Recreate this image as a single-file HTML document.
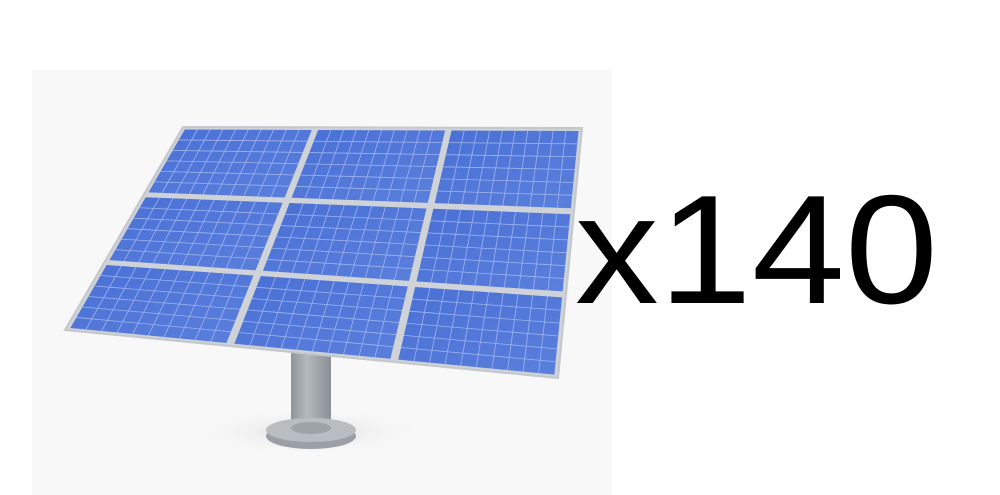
<!DOCTYPE html>
<html><head><meta charset="utf-8"><style>
html,body{margin:0;padding:0;background:#fff;width:1000px;height:495px;overflow:hidden}
svg{display:block}
</style></head><body>
<svg id="s" width="1000" height="495" viewBox="0 0 1000 495" xmlns="http://www.w3.org/2000/svg">
<defs>
<linearGradient id="cell" x1="0" y1="0" x2="1" y2="1">
<stop offset="0" stop-color="#4a70d6"/><stop offset="1" stop-color="#5a7fdc"/></linearGradient>
<radialGradient id="shadow" cx="0.5" cy="0.5" r="0.5"><stop offset="0" stop-color="#dcdcdc"/><stop offset="1" stop-color="#f8f8f8" stop-opacity="0"/></radialGradient>
<linearGradient id="pole" x1="0" x2="1"><stop offset="0" stop-color="#8e9499"/><stop offset="0.4" stop-color="#b4b9bd"/><stop offset="1" stop-color="#8a9095"/></linearGradient>
</defs>
<rect x="32" y="70" width="580" height="425" fill="#f8f8f8"/>
<ellipse cx="310" cy="432" rx="120" ry="25" fill="url(#shadow)"/>
<rect x="291" y="350" width="40" height="80" fill="url(#pole)"/>
<ellipse cx="311" cy="436" rx="45" ry="13" fill="#9aa0a5"/>
<ellipse cx="311" cy="430" rx="45" ry="12" fill="#b8bdc1"/>
<ellipse cx="311" cy="428" rx="20" ry="6" fill="#9ea3a8"/>
<polygon id="frame" fill="#cfd3d8" stroke="#c4c8cc" stroke-width="2"/>
<g id="panels"></g>
<text x="575" y="303" font-family="Liberation Sans, sans-serif" font-size="155" textLength="363" lengthAdjust="spacingAndGlyphs" fill="#000">x140</text>
</svg>
<script>
const TL=[183,127],TR=[582,128],BR=[558,378],BL=[65,330];
const rows=3, cols=3;
function P(u,v){
  const tx=TL[0]+(TR[0]-TL[0])*u, ty=TL[1]+(TR[1]-TL[1])*u;
  const bx=BL[0]+(BR[0]-BL[0])*u, by=BL[1]+(BR[1]-BL[1])*u;
  return [tx+(bx-tx)*v, ty+(by-ty)*v];
}
const ns="http://www.w3.org/2000/svg";
const frame=document.getElementById('frame');
frame.setAttribute('points',[TL,TR,BR,BL].map(p=>p.join(',')).join(' '));
const g=document.getElementById('panels');
const gap=0.008;
for(let r=0;r<rows;r++)for(let c=0;c<cols;c++){
  const u0=c/cols+gap,u1=(c+1)/cols-gap,v0=r/rows+gap*1.5,v1=(r+1)/rows-gap*1.5;
  const poly=document.createElementNS(ns,'polygon');
  
  
  poly.setAttribute('points',[P(u0,v0),P(u1,v0),P(u1,v1),P(u0,v1)].map(p=>p.join(',')).join(' '));
  poly.setAttribute('fill','url(#cell)');
  g.appendChild(poly);
  let d='';
  const n=10,m=6;
  for(let i=1;i<n;i++){const u=u0+(u1-u0)*i/n;const a=P(u,v0),b=P(u,v1);d+=`M${a}L${b}`;}
  for(let j=1;j<m;j++){const v=v0+(v1-v0)*j/m;const a=P(u0,v),b=P(u1,v);d+=`M${a}L${b}`;}
  const path=document.createElementNS(ns,'path');
  
  
  path.setAttribute('d',d);
  path.setAttribute('stroke','#9fb4ee');
  path.setAttribute('stroke-width','0.8');
  path.setAttribute('fill','none');
  g.appendChild(path);
}
</script>
</body></html>
